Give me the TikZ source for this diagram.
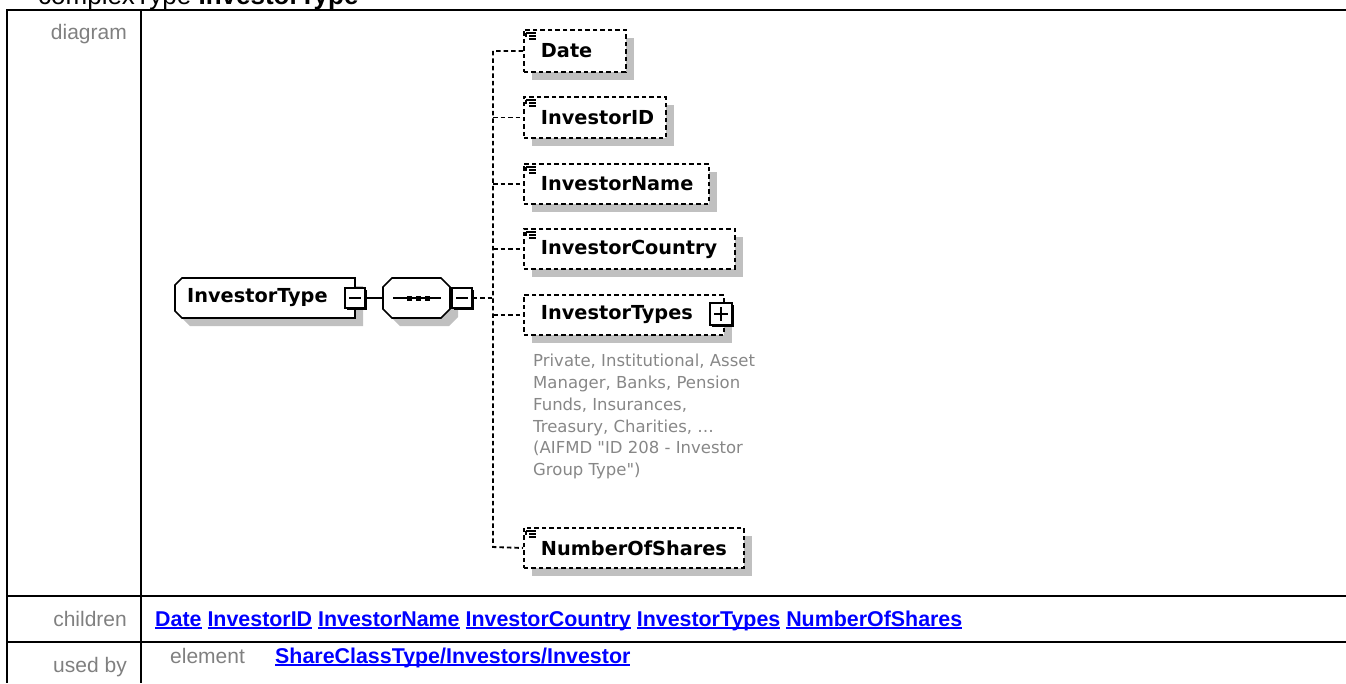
\documentclass[tikz,border=0pt]{standalone}
\usepackage{fontspec}
\setmainfont{Liberation Sans}
\newfontfamily\dvfont{DejaVu Sans}
\newcommand\myul[1]{\setbox0\hbox{#1}\rlap{\rule[-2.8pt]{\wd0}{1.7pt}}\box0\relax}
\usetikzlibrary{shadows}
\definecolor{shadowgray}{RGB}{192,192,192}
\definecolor{labelgray}{RGB}{128,128,128}
\definecolor{descgray}{RGB}{135,135,135}
\definecolor{linkblue}{RGB}{0,0,255}
\begin{document}
\begin{tikzpicture}[x=1pt,y=-1pt,
  tbl/.style={line width=2.5pt, black},
  lbl/.style={font=\fontsize{21pt}{24pt}\selectfont, text=labelgray, inner sep=0pt},
  link/.style={font=\fontsize{21.4pt}{24pt}\selectfont\bfseries, text=linkblue, inner sep=0pt},
  elfont/.style={font=\dvfont\bfseries\fontsize{19.3pt}{22pt}\selectfont},
  childbox/.style={elfont, draw, dash pattern=on 4.5pt off 3pt, line width=1.9pt, fill=white,
    anchor=north west, inner xsep=17pt, inner ysep=0pt, align=left,
    drop shadow={shadow xshift=8pt, shadow yshift=-8pt, fill=shadowgray, opacity=1}},
  expander/.style={draw, line width=1.3pt, fill=white, minimum size=20pt, inner sep=0pt,
    drop shadow={shadow xshift=2pt, shadow yshift=-2pt, fill=black, opacity=1}},
  conn/.style={line width=1.9pt, dash pattern=on 4.5pt off 3pt},
  solidconn/.style={line width=1.6pt},
  elicon/.pic={
    \draw[line width=1.3pt] (3,4) -- (13,4) (6,7) -- (13,7) (6,10) -- (13,10);
    \draw[line width=1.3pt] (3,4) -- (3,8);
  },
  desc/.style={font=\dvfont\fontsize{16.5pt}{21.8pt}\selectfont, text=descgray, inner sep=0pt, align=left}
]
\useasboundingbox (0,0) rectangle (1346,683);

% title (cut off at the top)
\node[anchor=base west, inner sep=0pt, font=\fontsize{26pt}{30pt}\selectfont] (title) at (38,4) {complexType \textbf{InvestorType}};

% table
\draw[tbl, line join=miter] (1346,10) -- (7,10) -- (7,683);
\draw[tbl] (141,10) -- (141,683);
\draw[tbl] (7,596) -- (1346,596);
\draw[tbl] (7,642) -- (1346,642);

\node[lbl, anchor=base east] (ldiagram) at (127,39) {diagram};
\node[lbl, anchor=base east] (lchildren) at (127,626) {children};
\node[lbl, anchor=base east] (lusedby) at (127,672) {used by};

\node[link, anchor=base west] (childlinks) at (155,626) {\myul{Date} \myul{InvestorID} \myul{InvestorName} \myul{InvestorCountry} \myul{InvestorTypes} \myul{NumberOfShares}};
\node[lbl, anchor=base west] (lelement) at (170,663) {element};
\node[link, anchor=base west] (usedlink) at (275,663) {\myul{ShareClassType/Investors/Investor}};

% root complex type box
\fill[shadowgray] (183,293) -- (190,286) -- (363,286) -- (363,326) -- (190,326) -- (183,319) -- cycle;
\draw[line width=1.6pt, fill=white] (175,285) -- (182,278) -- (355,278) -- (355,318) -- (182,318) -- (175,311) -- cycle;
\node[elfont, anchor=west, inner sep=0pt] (root) at (187,298) {InvestorType};
\node[expander] (rootminus) at (355,298) {};
\draw[line width=1.5pt] (rootminus.center) ++(-6,0) -- ++(12,0);

% sequence compositor
\fill[shadowgray] (391,295) -- (400,286) -- (449,286) -- (458,295) -- (458,317) -- (449,326) -- (400,326) -- (391,317) -- cycle;
\draw[line width=1.6pt, fill=white] (383,287) -- (392,278) -- (441,278) -- (450,287) -- (450,309) -- (441,318) -- (392,318) -- (383,309) -- cycle;
\coordinate (seqW) at (383,298);
\draw[line width=1.5pt] (393,298) -- (441,298);
\fill (407,295.5) rectangle (412,300.5);
\fill (416,295.5) rectangle (421,300.5);
\fill (425,295.5) rectangle (430,300.5);
\node[expander] (seqminus) at (462,298) {};
\draw[line width=1.5pt] (seqminus.center) ++(-6,0) -- ++(12,0);
\draw[solidconn] (rootminus.east) -- (seqW);

% children
\node[childbox, text width=68pt, minimum height=42pt] (date) at (523,29) {Date};
\node[childbox, text width=108pt, minimum height=41pt] (iid) at (523,96) {InvestorID};
\node[childbox, text width=151pt, minimum height=40pt] (iname) at (523,163) {InvestorName};
\node[childbox, text width=177pt, minimum height=40pt] (icountry) at (523,228) {InvestorCountry};
\node[childbox, text width=166pt, minimum height=40pt] (itypes) at (523,294) {InvestorTypes};
\node[childbox, text width=186pt, minimum height=40pt] (nos) at (523,527) {NumberOfShares};

\pic at (date.north west) {elicon};
\pic at (iid.north west) {elicon};
\pic at (iname.north west) {elicon};
\pic at (icountry.north west) {elicon};
\pic at (nos.north west) {elicon};

\node[expander, minimum size=22pt] (typesplus) at (721,314) {};
\draw[line width=1.5pt] (typesplus.center) ++(-7,0) -- ++(14,0);
\draw[line width=1.5pt] (typesplus.center) ++(0,-7) -- ++(0,14);

\node[desc, anchor=north west] (desctext) at (533,354) {Private, Institutional, Asset\\Manager, Banks, Pension\\Funds, Insurances,\\Treasury, Charities, …\\(AIFMD "ID 208 - Investor\\Group Type")};

% connectors
\coordinate (tBot) at (493,547);
\draw[conn] (seqminus.east) -- (seqminus.east -| tBot);
\draw[conn] (date.west) -| (tBot) -- (nos.west);
\draw[conn] (tBot |- iid.west) -- (iid.west);
\draw[conn] (tBot |- iname.west) -- (iname.west);
\draw[conn] (tBot |- icountry.west) -- (icountry.west);
\draw[conn] (tBot |- itypes.west) -- (itypes.west);
\end{tikzpicture}
\end{document}
